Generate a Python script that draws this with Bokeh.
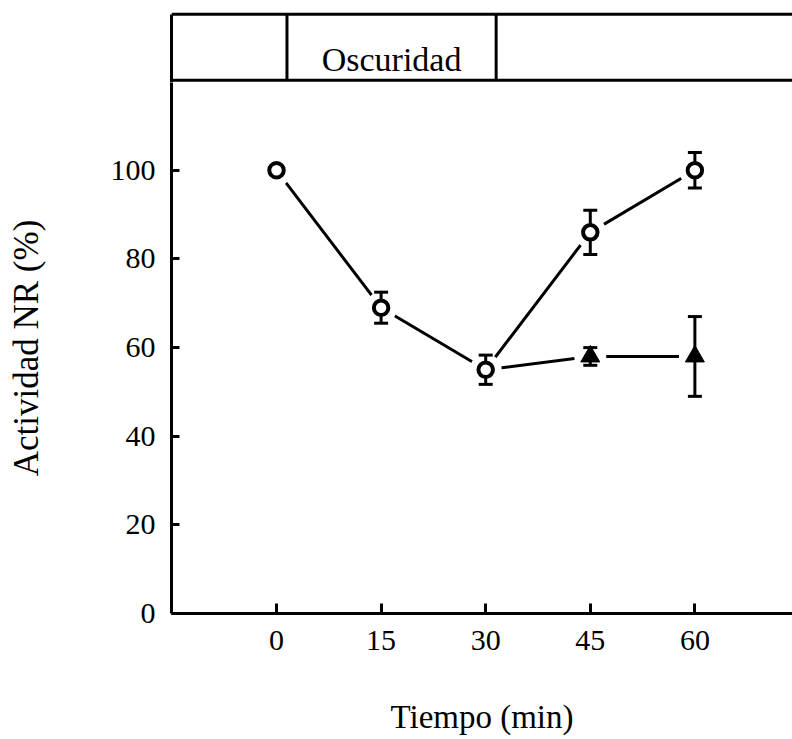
from bokeh.plotting import figure
from bokeh.layouts import column
from bokeh.models import Range1d, FixedTicker, LinearAxis
from bokeh.embed import file_html
from bokeh.resources import INLINE
from bokeh.core.properties import value

# NR activity (% of initial) over time (min)
time_light = [0, 15, 30, 45, 60]
activity_light = [100, 69, 55, 86, 100]
err_light = [0, 3.5, 3.3, 5, 4]

# series kept in darkness after 30 min (starts from the 30 min point)
time_dark = [30, 45, 60]
activity_dark = [55, 58, 58]
err_dark = [0, 2, 9]

dark_start, dark_end = 1.5, 31.5
x_ticks = [0, 15, 30, 45, 60]
y_ticks = [0, 20, 40, 60, 80, 100]

FONT = "Liberation Serif"
X0, X1 = -15.06, 74.0
PX_PER_UNIT = 4.432
Y_MAIN_TOP = 531 / PX_PER_UNIT          # top of the data area
HEADER_BOTTOM = Y_MAIN_TOP               # header frame starts where the data area ends
HEADER_TOP = HEADER_BOTTOM + 72 / PX_PER_UNIT
BAND_BOTTOM, BAND_TOP = 120.3, 135.2

# ---- header band marking the dark period ----
head = figure(frame_width=621, frame_height=72,
              x_range=Range1d(X0, X1),
              y_range=Range1d(HEADER_BOTTOM, HEADER_TOP),
              output_backend="svg", toolbar_location=None,
              x_axis_location=None, y_axis_location=None,
              min_border_left=171, min_border_right=0,
              min_border_top=10, min_border_bottom=0)
head.outline_line_color = None
head.grid.visible = False

# left edge of the header box, continuing the main y axis line
head_edge = LinearAxis(bounds=(HEADER_BOTTOM, BAND_TOP), ticker=FixedTicker(ticks=[]),
                       axis_line_width=3, axis_line_color="black",
                       major_tick_in=0, major_tick_out=0,
                       minor_tick_in=0, minor_tick_out=0,
                       major_label_text_font_size="0px")
head.add_layout(head_edge, "left")

head.segment(x0=[X0, X0, dark_start, dark_end],
             x1=[X1, X1, dark_start, dark_end],
             y0=[BAND_TOP, BAND_BOTTOM, BAND_BOTTOM, BAND_BOTTOM],
             y1=[BAND_TOP, BAND_BOTTOM, BAND_TOP, BAND_TOP],
             line_color="black", line_width=3)
head.text(x=[(dark_start + dark_end) / 2], y=[124.9], text=["Oscuridad"],
          text_align="center", text_baseline="alphabetic",
          text_font=value(FONT), text_font_size="34px", text_color="black")

# ---- main plot ----
p = figure(frame_width=621, frame_height=531,
           x_range=Range1d(X0, X1), y_range=Range1d(0, Y_MAIN_TOP),
           output_backend="svg", toolbar_location=None,
           min_border_left=171, min_border_right=0,
           min_border_top=0, min_border_bottom=126)
p.outline_line_color = None
p.grid.visible = False

# connecting lines
p.line(time_light, activity_light, line_color="black", line_width=3)
p.line(time_dark, activity_dark, line_color="black", line_width=3)

# white halos leave a gap between lines and markers
halo_x = time_light + time_dark[1:]
halo_y = activity_light + activity_dark[1:]
p.scatter(halo_x, halo_y, marker="circle", size=32, fill_color="white", line_color=None)

# error bars
ex, lo, hi = [], [], []
for t, a, e in list(zip(time_light, activity_light, err_light)) + list(zip(time_dark[1:], activity_dark[1:], err_dark[1:])):
    if e > 0:
        ex.append(t)
        lo.append(a - e)
        hi.append(a + e)
p.segment(x0=ex, x1=ex, y0=lo, y1=hi, line_color="black", line_width=3)
p.scatter(ex + ex, lo + hi, marker="dash", size=14, line_color="black", line_width=3)

# markers
p.scatter(time_light, activity_light, marker="circle", size=14.5,
          fill_color="white", line_color="black", line_width=4)
p.scatter(time_dark[1:], activity_dark[1:], marker="triangle", size=19,
          fill_color="black", line_color="black", line_width=1)

# axes
for ax in (p.xaxis[0], p.yaxis[0]):
    ax.axis_line_width = 3
    ax.axis_line_color = "black"
    ax.major_tick_line_width = 3
    ax.major_tick_line_color = "black"
    ax.major_tick_out = 0
    ax.minor_tick_in = 0
    ax.minor_tick_out = 0
    ax.major_label_text_font = FONT
    ax.major_label_text_font_size = "30px"
    ax.major_label_text_color = "black"
    ax.axis_label_text_font = FONT
    ax.axis_label_text_font_style = "normal"
    ax.axis_label_text_color = "black"

p.xaxis.ticker = FixedTicker(ticks=x_ticks)
p.xaxis.major_tick_in = 10
p.xaxis.major_label_standoff = 17
p.xaxis.axis_label = "Tiempo (min)"
p.xaxis.axis_label_text_font_size = "33px"
p.xaxis.axis_label_standoff = 46

p.yaxis.ticker = FixedTicker(ticks=y_ticks)
p.yaxis.major_tick_in = 8
p.yaxis.major_label_standoff = 16
p.yaxis.axis_label = "Actividad NR (%)"
p.yaxis.axis_label_text_font_size = "35px"
p.yaxis.axis_label_standoff = 62

layout = column(head, p, spacing=0)
open("out.html", "w").write(file_html(layout, INLINE))
